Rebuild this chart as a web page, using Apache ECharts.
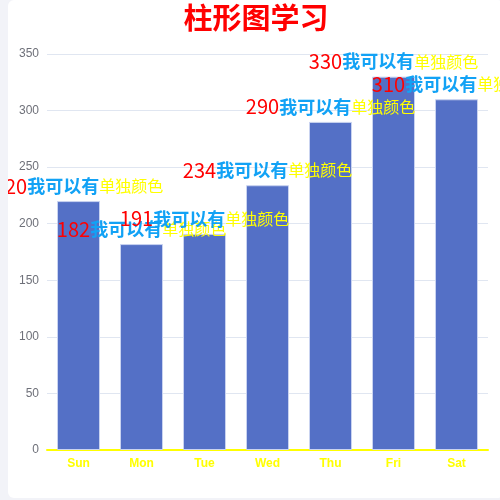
<!DOCTYPE html>
<html>
<head>
<meta charset="utf-8">
<script src="https://cdn.jsdelivr.net/npm/echarts@6/dist/echarts.min.js"></script>
<style>
  html, body { margin: 0; padding: 0; background: #f2f3f8; }
  #main {
    position: absolute; left: 8px; top: 0; width: 496px; height: 498px;
    background: #fff; border-radius: 6px; overflow: hidden;
  }
</style>
</head>
<body>
<div id="main"></div>
<script>
const days = ["Sun", "Mon", "Tue", "Wed", "Thu", "Fri", "Sat"];
const values = [220, 182, 191, 234, 290, 330, 310];

const chart = echarts.init(document.getElementById("main"));
chart.setOption({
  title: {
    text: "柱形图学习",
    left: "center",
    top: -2,
    textStyle: { color: "#ff0000", fontSize: 29, fontWeight: "bold", fontFamily: "Noto Sans CJK SC" }
  },
  grid: { left: 39, right: 16, top: 54, bottom: 48 },
  xAxis: {
    type: "category",
    data: days,
    axisLine: { lineStyle: { color: "#ffff00", width: 2 } },
    axisTick: { lineStyle: { color: "#ffff00" } },
    axisLabel: { color: "#ffff00", fontWeight: "bold", fontSize: 12 }
  },
  yAxis: {
    type: "value",
    min: 0, max: 350, interval: 50,
    axisLabel: { color: "#6e7079" },
    splitLine: { lineStyle: { color: "#e0e6f1" } }
  },
  series: [{
    type: "bar",
    data: values,
    barWidth: 43,
    itemStyle: { color: "#5470c6", borderColor: "#c9d3f0", borderWidth: 1 },
    label: {
      show: true,
      position: "top",
      distance: 5,
      fontFamily: "Noto Sans CJK SC",
      formatter: "{num|{c}}{blue|我可以有}{yel|单独颜色}",
      rich: {
        num: { color: "#ff0000", fontSize: 20, fontFamily: "Noto Sans CJK SC" },
        blue: { color: "#12a2f5", fontSize: 18, fontWeight: "bold", fontFamily: "Noto Sans CJK SC" },
        yel: { color: "#ffff00", fontSize: 16, fontFamily: "Noto Sans CJK SC" }
      }
    }
  }]
});
</script>
</body>
</html>
